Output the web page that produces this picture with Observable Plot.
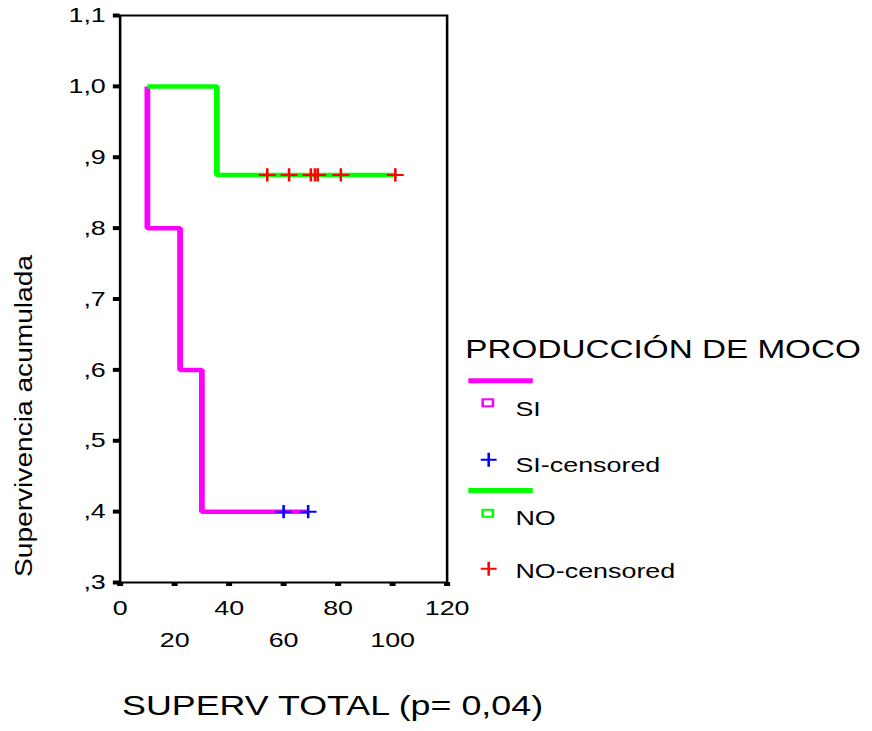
<!DOCTYPE html>
<html>
<head>
<meta charset="utf-8">
<script src="https://cdn.jsdelivr.net/npm/d3@7"></script>
<script src="https://cdn.jsdelivr.net/npm/@observablehq/plot@0.6"></script>
<style>
  html, body { margin: 0; padding: 0; background: #fff; }
  #wrap { position: absolute; left: 0; top: 0; width: 681.25px; height: 731px; transform: scaleX(1.28); transform-origin: 0 0; }
  #wrap svg { display: block; }
</style>
</head>
<body>
<div id="wrap"></div>
<script>
// ---- data ----
const xTicks = [0, 20, 40, 60, 80, 100, 120];
const xTicksRow1 = [0, 40, 80, 120];
const xTicksRow2 = [20, 60, 100];
const yTicks = [1.1, 1.0, 0.9, 0.8, 0.7, 0.6, 0.5, 0.4, 0.3];
const yTickLabels = ["1,1", "1,0", ",9", ",8", ",7", ",6", ",5", ",4", ",3"];

// Kaplan-Meier step curves (step-after points)
const siTimes = [10, 10, 22, 30, 69];
const siSurv  = [1.0, 0.8, 0.6, 0.4, 0.4];
const noTimes = [10, 35.5, 101];
const noSurv  = [1.0, 0.875, 0.875];

// censored observations
const siCensorTimes = [60, 69];
const siCensorSurv  = [0.4, 0.4];
const noCensorTimes = [54, 62, 70, 71.5, 72.5, 81, 101];
const noCensorSurv  = [0.875, 0.875, 0.875, 0.875, 0.875, 0.875, 0.875];

const legendTitle = "PRODUCCIÓN DE MOCO";
const legendItems = ["SI", "SI-censored", "NO", "NO-censored"];
const xTitle = "SUPERV TOTAL (p= 0,04)";
const yTitle = "Supervivencia acumulada";

// ---- build tables ----
const si = siTimes.map((t, i) => ({t, s: siSurv[i]}));
const no = noTimes.map((t, i) => ({t, s: noSurv[i]}));
const siC = siCensorTimes.map((t, i) => ({t, s: siCensorSurv[i]}));
const noC = noCensorTimes.map((t, i) => ({t, s: noCensorSurv[i]}));

const colSI = "#ff00ff", colNO = "#00ff00", colSIc = "#0000ff", colNOc = "#ff0000";

const cross = {
  draw(ctx, size) {
    const r = Math.sqrt(size / Math.PI);
    ctx.moveTo(-r, 0); ctx.lineTo(r, 0);
    ctx.moveTo(0, -r); ctx.lineTo(0, r);
  }
};

const W = 681.25, H = 731;
const fL = 93.36, fR = 348.8;

const chart = Plot.plot({
  width: W,
  height: H,
  marginLeft: fL,
  marginRight: W - fR,
  marginTop: 15,
  marginBottom: H - 582,
  style: {fontFamily: "'Liberation Sans', Arial, sans-serif", fontSize: "21px", color: "black", background: "white"},
  x: {domain: [0, 120]},
  y: {domain: [0.3, 1.1]},
  marks: [
    Plot.line(si, {x: "t", y: "s", curve: "step-after", stroke: colSI, strokeWidth: 4.5, strokeLinejoin: "miter", strokeLinecap: "butt"}),
    Plot.line(no, {x: "t", y: "s", curve: "step-after", stroke: colNO, strokeWidth: 4.5, strokeLinejoin: "miter", strokeLinecap: "butt"}),
    Plot.dot(siC, {x: "t", y: "s", symbol: cross, r: 6.6, stroke: colSIc, strokeWidth: 2, fill: "none"}),
    Plot.dot(noC, {x: "t", y: "s", symbol: cross, r: 6.6, stroke: colNOc, strokeWidth: 2, fill: "none"}),
    Plot.frame({stroke: "black", strokeWidth: 2}),
    Plot.axisY({
      ticks: yTicks,
      tickFormat: d => yTickLabels[yTicks.findIndex(t => Math.abs(t - d) < 1e-9)],
      tickSize: 5.2, tickPadding: 6, strokeWidth: 4, fontSize: 21, label: null
    }),
    Plot.axisX({ticks: xTicks, tickSize: 4, strokeWidth: 4.7, tickFormat: () => "", label: null}),
    Plot.axisX({ticks: xTicksRow1, tickSize: 0, tickPadding: 18, fontSize: 21, label: null}),
    Plot.axisX({ticks: xTicksRow2, tickSize: 0, tickPadding: 49.7, fontSize: 21, label: null})
  ]
});

document.getElementById("wrap").appendChild(chart);

// ---- titles and legend ----
const svg = d3.select(chart);
const font = "'Liberation Sans', Arial, sans-serif";

svg.append("text")
  .attr("x", 259.8).attr("y", 715)
  .attr("text-anchor", "middle")
  .attr("font-family", font).attr("font-size", 28).attr("fill", "black")
  .text(xTitle);

svg.append("text")
  .attr("transform", "translate(25.1,416) rotate(-90)")
  .attr("text-anchor", "middle")
  .attr("font-family", font).attr("font-size", 18.3).attr("fill", "black")
  .attr("textLength", 322).attr("lengthAdjust", "spacingAndGlyphs")
  .text(yTitle);

const lg = svg.append("g").attr("font-family", font).attr("text-anchor", "start");
lg.append("text").attr("x", 363.5).attr("y", 358).attr("text-anchor", "start")
  .attr("font-size", 26).attr("fill", "black").text(legendTitle);

// group line swatches
[[colSI, 380.8], [colNO, 490.5]].forEach(([c, y]) => {
  lg.append("line").attr("x1", 365.9).attr("x2", 416.2).attr("y1", y).attr("y2", y)
    .attr("stroke", c).attr("stroke-width", 5);
});
// square markers
[[colSI, 402.8], [colNO, 513.3]].forEach(([c, y]) => {
  lg.append("rect").attr("x", 381.1 - 4).attr("y", y - 3.5).attr("width", 8).attr("height", 7)
    .attr("fill", "none").attr("stroke", c).attr("stroke-width", 2);
});
// cross markers
[[colSIc, 459.7], [colNOc, 568.7]].forEach(([c, y]) => {
  lg.append("path").attr("d", `M${381.8 - 6.2},${y}H${381.8 + 6.2}M${381.8},${y - 7}V${y + 7}`)
    .attr("fill", "none").attr("stroke", c).attr("stroke-width", 2);
});
const itemY = [416.5, 471.7, 525, 578];
legendItems.forEach((label, i) => {
  lg.append("text").attr("x", 402.7).attr("y", itemY[i]).attr("text-anchor", "start")
    .attr("font-size", 21).attr("fill", "black").text(label);
});
</script>
</body>
</html>
